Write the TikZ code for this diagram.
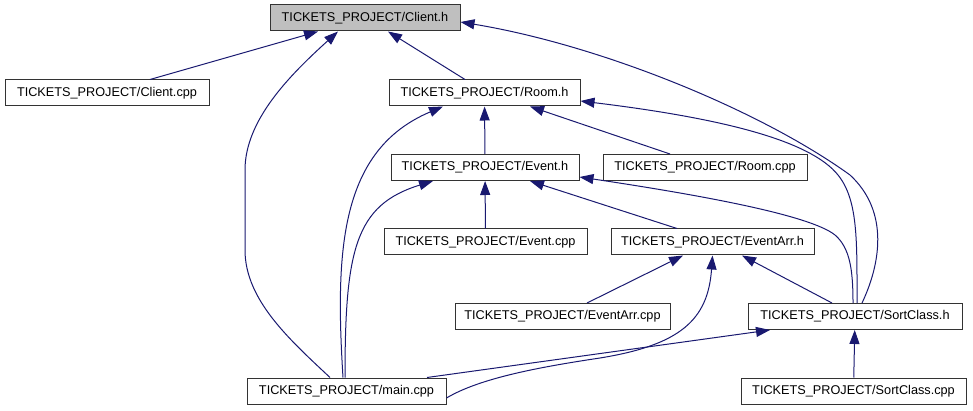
\documentclass[tikz,border=0pt]{standalone}
\usepackage{fontspec}
\setmainfont{Liberation Sans}
\usepackage{tikz}
\usetikzlibrary{arrows.meta}
\definecolor{EdgeBlue}{HTML}{191970}
\definecolor{Focus}{HTML}{BFBFBF}

\begin{document}
\begin{tikzpicture}[x=1pt, y=-1pt, >={Triangle[length=14pt,width=10pt]},
  every node/.style={font=\fontsize{12.7}{15}\selectfont},
  box/.style={draw=black!80, fill=white, line width=1pt, minimum height=26pt, inner sep=0pt},
  dep/.style={<-, draw=EdgeBlue, line width=1pt}]
  \useasboundingbox (0,0) rectangle (973,411);
  % files, one rank per row
  \node[box, fill=Focus, minimum width=190pt] (clienth) at (365,18) {TICKETS\_PROJECT/Client.h};
  \node[box, minimum width=204pt] (clientcpp) at (107,93) {TICKETS\_PROJECT/Client.cpp};
  \node[box, minimum width=191pt] (roomh) at (484.5,93) {TICKETS\_PROJECT/Room.h};
  \node[box, minimum width=188pt] (eventh) at (485,167.5) {TICKETS\_PROJECT/Event.h};
  \node[box, minimum width=204pt] (roomcpp) at (705,167.5) {TICKETS\_PROJECT/Room.cpp};
  \node[box, minimum width=203pt] (eventcpp) at (485.5,242) {TICKETS\_PROJECT/Event.cpp};
  \node[box, minimum width=203pt] (eventarrh) at (712.5,242) {TICKETS\_PROJECT/EventArr.h};
  \node[box, minimum width=215pt] (eventarrcpp) at (562.5,316.5) {TICKETS\_PROJECT/EventArr.cpp};
  \node[box, minimum width=214pt] (sortclassh) at (855,316.5) {TICKETS\_PROJECT/SortClass.h};
  \node[box, minimum width=199pt] (maincpp) at (346.5,391) {TICKETS\_PROJECT/main.cpp};
  \node[box, minimum width=225pt] (sortclasscpp) at (853.5,391) {TICKETS\_PROJECT/SortClass.cpp};
  % includes of Client.h
  \draw[dep] ([xshift=-47pt]clienth.south) -- ([xshift=43pt]clientcpp.north);
  \draw[dep] ([xshift=23pt]clienth.south) -- ([xshift=-19.5pt]roomh.north);
  \draw[dep] ([xshift=-27pt]clienth.south) .. controls (290,75) and (245,120) .. (245,170)
    -- (245,250) .. controls (245,300) and (290,340) .. ([xshift=-16.5pt]maincpp.north);
  \draw[dep] ([yshift=-4pt]clienth.east) .. controls (600,45) and (760,110) .. (850,175)
    .. controls (890,212) and (880,265) .. ([xshift=7pt]sortclassh.north);
  % includes of Room.h
  \draw[dep] (roomh) -- (eventh);
  \draw[dep] ([xshift=45.5pt]roomh.south) -- ([xshift=-35pt]roomcpp.north);
  \draw[dep] ([xshift=-41.5pt]roomh.south) .. controls (340,150) and (335,250) .. ([xshift=-3.5pt]maincpp.north);
  \draw[dep] ([yshift=-8pt]roomh.east) .. controls (720,118) and (810,140) .. (838,175)
    .. controls (858,200) and (857,240) .. ([xshift=2pt]sortclassh.north);
  % includes of Event.h
  \draw[dep] (eventh) -- (eventcpp);
  \draw[dep] ([xshift=45pt]eventh.south) -- ([xshift=-35.5pt]eventarrh.north);
  \draw[dep] ([xshift=-52pt]eventh.south) .. controls (355,205) and (345,250) .. ([xshift=-1.5pt]maincpp.north);
  \draw[dep] ([yshift=-9.5pt]eventh.east) .. controls (700,195) and (810,215) .. (835,235)
    .. controls (850,248) and (853,270) .. ([xshift=-2pt]sortclassh.north);
  % includes of EventArr.h
  \draw[dep] ([xshift=-29.5pt]eventarrh.south) -- ([xshift=24.5pt]eventarrcpp.north);
  \draw[dep] ([xshift=29.5pt]eventarrh.south) -- ([xshift=-23pt]sortclassh.north);
  \draw[dep] (eventarrh.south) .. controls (708,320) and (680,345) .. (600,358)
    .. controls (540,367) and (480,378) .. ([yshift=-7pt]maincpp.east);
  % includes of SortClass.h
  \draw[dep] ([xshift=-85pt]sortclassh.south) -- ([xshift=80.5pt]maincpp.north);
  \draw[dep] (sortclassh) -- (sortclasscpp);
\end{tikzpicture}
\end{document}
